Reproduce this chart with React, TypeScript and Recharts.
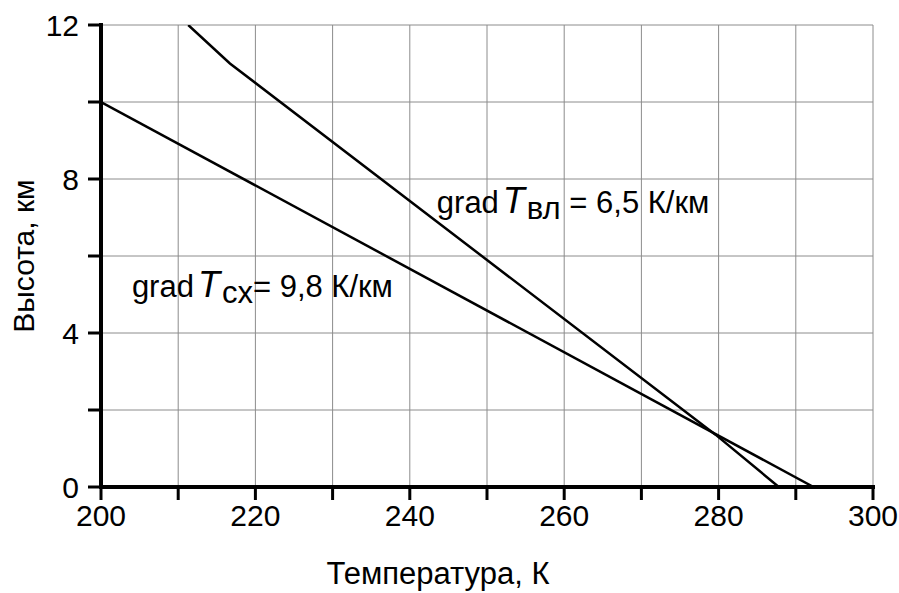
import React from "react";
import { LineChart, Line, XAxis, YAxis, CartesianGrid, ReferenceDot } from "recharts";

const xTicks = [200, 210, 220, 230, 240, 250, 260, 270, 280, 290, 300];
const yTicks = [0, 2, 4, 6, 8, 10, 12];
const xLabelTicks = [200, 220, 240, 260, 280, 300];
const yLabelTicks = [0, 4, 8, 12];

// dry adiabatic profile (grad T = 9,8 K/km)
const dryT = [200, 292.3];
const dryH = [10, 0];
// moist profile (grad T = 6,5 K/km)
const moistT = [211.3, 216.7, 279.6, 287.8];
const moistH = [12, 11, 1.36, 0];

const dryData = dryT.map((t, i) => ({ t, h: dryH[i] }));
const moistData = moistT.map((t, i) => ({ t, h: moistH[i] }));

const FONT = "'Liberation Sans', Arial, Helvetica, sans-serif";

const XTick = (props: any) => {
  const { x, y, payload } = props;
  if (!xLabelTicks.includes(payload.value)) return null;
  return (
    <text x={x} y={y + 24} textAnchor="middle" fontFamily={FONT} fontSize={30} fill="#000">
      {payload.value}
    </text>
  );
};

const YTick = (props: any) => {
  const { x, y, payload } = props;
  if (!yLabelTicks.includes(payload.value)) return null;
  return (
    <text x={x} y={y + 11} textAnchor="end" fontFamily={FONT} fontSize={30} fill="#000">
      {payload.value}
    </text>
  );
};

const Annot = (sub: string, rest: string) => (props: any) => {
  const { cx, cy } = props;
  return (
    <text x={cx} y={cy} fontFamily={FONT} fontSize={31} fill="#000">
      grad
      <tspan dx={4} fontStyle="italic" fontSize={36}>T</tspan>
      <tspan dx={2} dy={6} fontSize={31}>{sub}</tspan>
      <tspan dy={-6}>{rest}</tspan>
    </text>
  );
};

export default function App() {
  return (
    <div style={{ position: "absolute", left: 0, top: 0, background: "#fff" }}>
      <LineChart
        width={899}
        height={593}
        margin={{ top: 25, right: 26, left: 0, bottom: 0 }}
      >
        <CartesianGrid stroke="#8c8c8c" strokeWidth={1} />
        <XAxis
          type="number"
          dataKey="t"
          domain={[200, 300]}
          ticks={xTicks}
          interval={0}
          height={106}
          allowDataOverflow
          axisLine={{ stroke: "#000", strokeWidth: 4, strokeLinecap: "square" }}
          tickLine={{ stroke: "#000", strokeWidth: 3 }}
          tickSize={13}
          tickMargin={2}
          tick={<XTick />}
          label={{
            content: (p: any) => {
              const vb = p.viewBox;
              return (
                <text
                  x={vb.x + vb.width / 2 - 49}
                  y={vb.y + 97}
                  textAnchor="middle"
                  fontFamily={FONT}
                  fontSize={31}
                  fill="#000"
                >
                  Температура, К
                </text>
              );
            },
          }}
        />
        <YAxis
          type="number"
          dataKey="h"
          domain={[0, 12]}
          ticks={yTicks}
          interval={0}
          width={101}
          allowDataOverflow
          axisLine={{ stroke: "#000", strokeWidth: 4, strokeLinecap: "square" }}
          tickLine={{ stroke: "#000", strokeWidth: 3 }}
          tickSize={13}
          tickMargin={9}
          tick={<YTick />}
          label={{
            content: (p: any) => {
              const vb = p.viewBox;
              const cx = 34;
              const cy = vb.y + vb.height / 2;
              return (
                <text
                  x={cx}
                  y={cy}
                  transform={`rotate(-90 ${cx} ${cy})`}
                  textAnchor="middle"
                  fontFamily={FONT}
                  fontSize={30}
                  fill="#000"
                >
                  Высота, км
                </text>
              );
            },
          }}
        />
        <Line
          data={dryData}
          dataKey="h"
          type="linear"
          stroke="#000"
          strokeWidth={2.5}
          dot={false}
          activeDot={false}
          isAnimationActive={false}
        />
        <Line
          data={moistData}
          dataKey="h"
          type="linear"
          stroke="#000"
          strokeWidth={2.5}
          dot={false}
          activeDot={false}
          isAnimationActive={false}
        />
        <ReferenceDot x={243.5} y={7.11} r={0} shape={Annot("вл", " = 6,5 К/км")} />
        <ReferenceDot x={204.0} y={4.94} r={0} shape={Annot("сх", "= 9,8 К/км")} />
      </LineChart>
    </div>
  );
}
